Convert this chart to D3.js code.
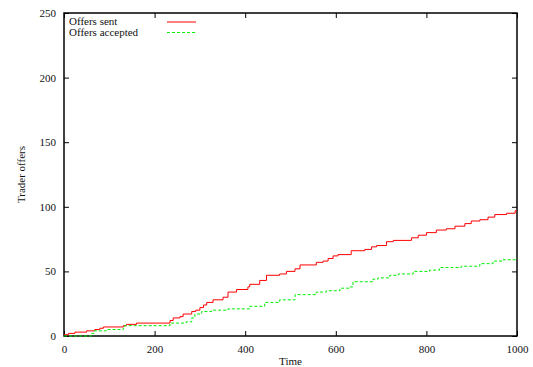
<!DOCTYPE html>
<html>
<head>
<meta charset="utf-8">
<script src="https://cdn.jsdelivr.net/npm/d3@7"></script>
<style>
  body { margin: 0; background: #fff; }
  text { font-family: "Liberation Serif", "Times New Roman", Times, "DejaVu Serif", serif; font-size: 11px; fill: #111; }
</style>
</head>
<body>
<div id="chart"></div>
<script>
// offers sent: [time, count]
var sentData = [[0,1],[10,2],[24,3],[50,4],[68,5],[79,6],[87,7],[131,8],[138,9],[160,10],[234,12],[241,14],[256,15],[263,17],[282,19],[291,20],[300,22],[308,24],[315,26],[329,28],[351,30],[362,34],[381,36],[406,38],[410,40],[432,43],[447,47],[476,48],[491,50],[510,52],[521,55],[557,57],[572,58],[583,60],[594,62],[605,63],[634,66],[664,67],[679,69],[690,70],[712,73],[727,74],[767,76],[782,78],[800,80],[822,82],[844,83],[863,85],[885,87],[899,89],[918,90],[936,92],[951,94],[977,95],[996,97],[1000,97]];
// offers accepted: [time, count]
var acceptedData = [[0,0],[61,2],[66,4],[94,5],[131,6],[134,8],[234,10],[270,11],[282,14],[289,17],[304,19],[326,20],[362,21],[410,23],[443,26],[476,28],[510,32],[557,34],[579,35],[609,37],[631,38],[638,42],[682,44],[693,45],[719,47],[738,48],[771,50],[807,51],[829,53],[877,54],[918,56],[947,58],[969,59],[996,60],[1000,60]];
var xTicks = [0, 200, 400, 600, 800, 1000];
var yTicks = [0, 50, 100, 150, 200, 250];
var seriesNames = ["Offers sent", "Offers accepted"];

var W = 533, H = 367;
var margin = {top: 13, right: 16, bottom: 31, left: 64};
var width = W - margin.left - margin.right,
    height = H - margin.top - margin.bottom;

var svg = d3.select("#chart").append("svg").attr("width", W).attr("height", H);
var g = svg.append("g").attr("transform", "translate(" + margin.left + "," + margin.top + ")");

var x = d3.scaleLinear().domain([0, 1000]).range([0, width]);
var y = d3.scaleLinear().domain([0, 250]).range([height, 0]);

// axes with inward ticks on all sides
var tickLen = 5;
var fmt = d3.format("d");
g.append("g").attr("transform", "translate(0," + height + ")")
  .call(d3.axisBottom(x).tickValues(xTicks).tickFormat(fmt).tickSizeInner(-tickLen).tickSizeOuter(0).tickPadding(tickLen + 4))
g.append("g").call(d3.axisTop(x).tickValues(xTicks).tickSizeInner(-tickLen).tickSizeOuter(0).tickFormat(""))
g.append("g").call(d3.axisLeft(y).tickValues(yTicks).tickFormat(fmt).tickSizeInner(-tickLen).tickSizeOuter(0).tickPadding(tickLen + 3))
g.append("g").attr("transform", "translate(" + width + ",0)")
  .call(d3.axisRight(y).tickValues(yTicks).tickSizeInner(-tickLen).tickSizeOuter(0).tickFormat(""))
g.selectAll(".domain").remove();
g.selectAll(".tick line").attr("stroke", "#000").attr("stroke-width", 1);
g.selectAll(".tick text").attr("font-family", null).attr("font-size", null);

g.append("rect").attr("x", 0).attr("y", 0).attr("width", width).attr("height", height)
  .attr("fill", "none").attr("stroke", "#000").attr("stroke-width", 1.5);

var line = d3.line().curve(d3.curveStepAfter)
  .x(function (d) { return x(d[0]); })
  .y(function (d) { return y(d[1]); });

g.append("path").datum(sentData).attr("d", line)
  .attr("fill", "none").attr("stroke", "#ff0000").attr("stroke-width", 1);
g.append("path").datum(acceptedData).attr("d", line)
  .attr("fill", "none").attr("stroke", "#00ee00").attr("stroke-width", 1).attr("stroke-dasharray", "3,2");

// legend
var legend = g.append("g").attr("transform", "translate(5,0)");
var legendStyles = [{c: "#ff0000", dash: null}, {c: "#00ee00", dash: "3,2"}];
seriesNames.forEach(function (name, i) {
  legend.append("text").attr("x", 0).attr("y", 12 + i * 10.5).text(name);
  legend.append("line").attr("x1", 98).attr("x2", 127)
    .attr("y1", 9 + i * 10.5).attr("y2", 9 + i * 10.5)
    .attr("stroke", legendStyles[i].c).attr("stroke-width", 1)
    .attr("stroke-dasharray", legendStyles[i].dash);
});

// axis titles
svg.append("text").attr("x", margin.left + width / 2).attr("y", 365).attr("text-anchor", "middle").text("Time");
svg.append("text").attr("transform", "translate(25," + (margin.top + height / 2) + ") rotate(-90)")
  .attr("text-anchor", "middle").text("Trader offers");
</script>
</body>
</html>
